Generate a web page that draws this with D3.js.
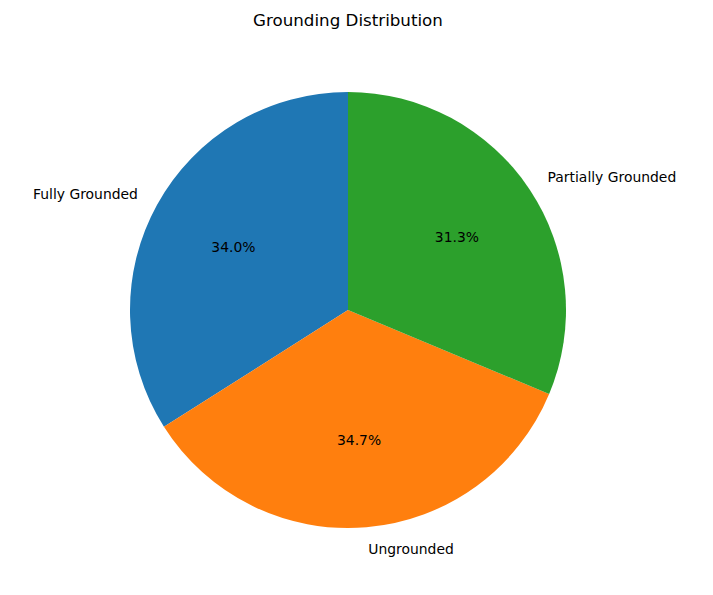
<!DOCTYPE html>
<html><head><meta charset="utf-8">
<script src="https://cdn.jsdelivr.net/npm/d3@7"></script>
<style>body{margin:0;background:#fff}text{font-family:"DejaVu Sans",sans-serif}</style>
</head><body>
<script>
const categories = ["Fully Grounded", "Ungrounded", "Partially Grounded"];
const values = [34.0, 34.7, 31.3];
const colors = ["#1f77b4", "#ff7f0e", "#2ca02c"];

const W = 713, H = 595, cx = 348, cy = 310, R = 218;
const svg = d3.select("body").append("svg").attr("width", W).attr("height", H);
svg.append("text").attr("x", cx).attr("y", 26).attr("text-anchor", "middle")
  .style("font-size", "16.7px").text("Grounding Distribution");
const g = svg.append("g").attr("transform", `translate(${cx},${cy})`);
const pie = d3.pie().sort(null).startAngle(0).endAngle(-2 * Math.PI);
const arcs = pie(values);
const arc = d3.arc().innerRadius(0).outerRadius(R);
g.selectAll("path").data(arcs).enter().append("path")
  .attr("d", arc).attr("fill", (d, i) => colors[i]);
arcs.forEach((d, i) => {
  const a = (d.startAngle + d.endAngle) / 2;
  const sx = Math.sin(a), sy = -Math.cos(a);
  g.append("text").attr("x", 1.1 * R * sx).attr("y", 1.1 * R * sy)
    .attr("dy", "0.35em").attr("text-anchor", sx < 0 ? "end" : "start")
    .style("font-size", "13.9px").text(categories[i]);
  g.append("text").attr("x", 0.6 * R * sx).attr("y", 0.6 * R * sy)
    .attr("dy", "0.35em").attr("text-anchor", "middle")
    .style("font-size", "13.9px").text(values[i].toFixed(1) + "%");
});
</script>
</body></html>
